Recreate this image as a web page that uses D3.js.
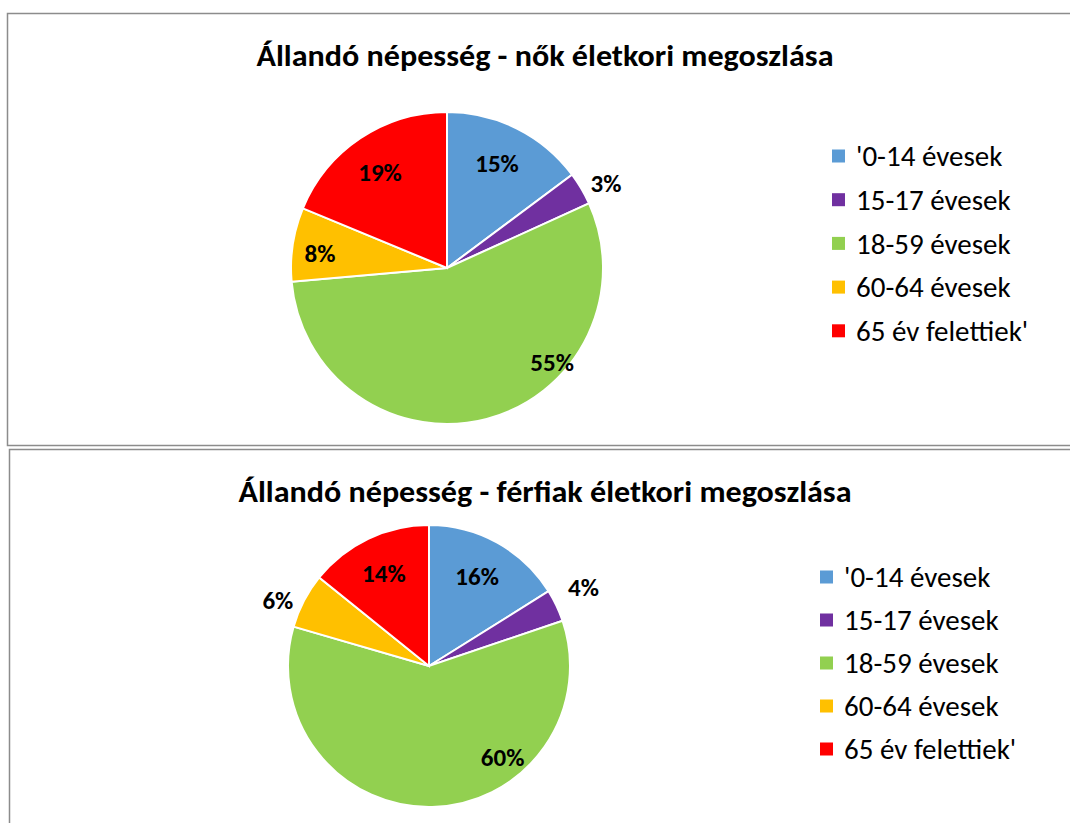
<!DOCTYPE html>
<html>
  <head>
    <meta charset="utf-8" />
    <title>Állandó népesség</title>
    <style>
      body { margin: 0; background: #fff; }
      svg { display: block; font-family: Carlito, Calibri, "Liberation Sans", "DejaVu Sans", sans-serif; }
    </style>
  </head>
  <body>
    <div id="plot"></div>
    <script src="https://d3js.org/d3.v7.min.js"></script>
    <script>
      // categories and colours
      const categories = ["'0-14 évesek", "15-17 évesek", "18-59 évesek", "60-64 évesek", "65 év felettiek'"];
      const colors = ["#5b9bd5", "#7030a0", "#92d050", "#ffc000", "#ff0000"];

      // shares (percent)
      const womenValues = [14.8, 3.4, 55.4, 7.65, 18.75];
      const menValues = [16.1, 3.7, 59.7, 6.3, 14.2];

      const titles = [
        "Állandó népesség - nők életkori megoszlása",
        "Állandó népesség - férfiak életkori megoszlása"
      ];

      const width = 1070, height = 823;

      const svg = d3.select("#plot")
        .append("svg")
        .attr("width", width)
        .attr("height", height);

      // panel layout, label placement (angle in degrees, radius fraction)
      const panels = [
        {
          values: womenValues, title: titles[0],
          box: [7, 13, 1090, 445], titleY: 66, titleW: 577,
          cx: 447, cy: 268, r: 156,
          legendX: 832, legendY: 156, legendStep: 43.7,
          labels: [[25.5, 0.745], [61.9, 1.155], [131.8, 0.904], [276.7, 0.82], [325.1, 0.75]]
        },
        {
          values: menValues, title: titles[1],
          box: [9, 449, 1090, 840], titleY: 502, titleW: 613,
          cx: 429, cy: 666, r: 141,
          legendX: 820, legendY: 577, legendStep: 43,
          labels: [[28.3, 0.72], [63, 1.23], [141, 0.83], [293.6, 1.17], [334, 0.73]]
        }
      ];

      const pie = d3.pie().sort(null).value(d => d);

      panels.forEach(p => {
        const g = svg.append("g");

        g.append("rect")
          .attr("x", p.box[0] + 0.5)
          .attr("y", p.box[1] + 0.5)
          .attr("width", p.box[2] - p.box[0])
          .attr("height", p.box[3] - p.box[1])
          .attr("fill", "#fff")
          .attr("stroke", "#8c8c8c")
          .attr("stroke-width", 1.5);

        g.append("text")
          .attr("x", 545)
          .attr("y", p.titleY)
          .attr("text-anchor", "middle")
          .attr("font-size", 30)
          .attr("font-weight", "bold")
          .attr("fill", "#000")
          .attr("textLength", p.titleW)
          .attr("lengthAdjust", "spacingAndGlyphs")
          .text(p.title);

        const arcs = pie(p.values);
        const arc = d3.arc().innerRadius(0).outerRadius(p.r);

        const pg = g.append("g").attr("transform", `translate(${p.cx},${p.cy})`);
        pg.selectAll("path")
          .data(arcs)
          .join("path")
          .attr("d", arc)
          .attr("fill", (d, i) => colors[i])
          .attr("stroke", "#fff")
          .attr("stroke-width", 2);

        pg.selectAll("text")
          .data(arcs)
          .join("text")
          .attr("x", (d, i) => Math.sin(p.labels[i][0] * Math.PI / 180) * p.r * p.labels[i][1])
          .attr("y", (d, i) => -Math.cos(p.labels[i][0] * Math.PI / 180) * p.r * p.labels[i][1])
          .attr("dy", "0.35em")
          .attr("text-anchor", "middle")
          .attr("font-size", 25)
          .attr("font-weight", "bold")
          .attr("fill", "#000")
          .text(d => Math.round(d.data) + "%");

        // legend
        const y = d3.scalePoint()
          .domain(categories)
          .range([p.legendY, p.legendY + p.legendStep * (categories.length - 1)]);

        const lg = g.append("g");
        categories.forEach((c, i) => {
          lg.append("rect")
            .attr("x", p.legendX)
            .attr("y", y(c) - 6.5)
            .attr("width", 13)
            .attr("height", 13)
            .attr("fill", colors[i]);
          lg.append("text")
            .attr("x", p.legendX + 24)
            .attr("y", y(c))
            .attr("dy", "0.35em")
            .attr("font-size", 29)
            .attr("fill", "#000")
            .text(c);
        });
      });
    </script>
  </body>
</html>
